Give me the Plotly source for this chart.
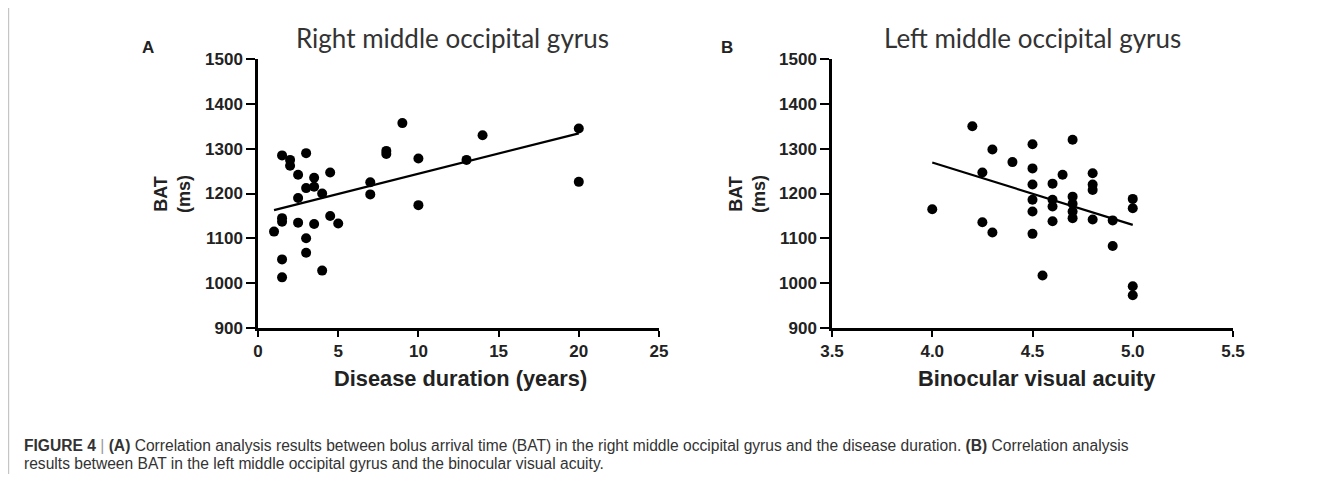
import plotly.graph_objects as go

# Panel A: disease duration (years) vs BAT (ms)
dur_years = [1, 1.5, 1.5, 1.5, 1.5, 1.5, 2, 2, 2.5, 2.5, 2.5, 3, 3, 3, 3, 3.5, 3.5, 3.5,
             4, 4, 4.5, 4.5, 5, 7, 7, 8, 8, 9, 10, 10, 13, 14, 20, 20]
bat_a = [1115, 1285, 1145, 1137, 1053, 1013, 1275, 1262, 1242, 1190, 1135, 1290, 1212, 1100,
         1068, 1235, 1215, 1132, 1200, 1028, 1247, 1150, 1133, 1225, 1198, 1295, 1288, 1357,
         1278, 1174, 1275, 1330, 1345, 1226]
fit_a_x = [1, 20]
fit_a_y = [1163, 1334]

# Panel B: binocular visual acuity vs BAT (ms)
acuity = [4.0, 4.2, 4.25, 4.25, 4.3, 4.3, 4.4, 4.5, 4.5, 4.5, 4.5, 4.5, 4.5, 4.55,
          4.6, 4.6, 4.6, 4.6, 4.65, 4.7, 4.7, 4.7, 4.7, 4.7, 4.8, 4.8, 4.8, 4.8,
          4.9, 4.9, 5.0, 5.0, 5.0, 5.0]
bat_b = [1165, 1350, 1247, 1136, 1298, 1113, 1270, 1310, 1256, 1220, 1186, 1160, 1110, 1017,
         1222, 1186, 1171, 1138, 1242, 1320, 1193, 1177, 1160, 1145, 1245, 1220, 1208, 1142,
         1140, 1083, 1188, 1167, 993, 973]
fit_b_x = [4.0, 5.0]
fit_b_y = [1269, 1130]

x_ticks_a = [0, 5, 10, 15, 20, 25]
x_ticks_b = [3.5, 4.0, 4.5, 5.0, 5.5]
x_ticktext_b = ["3.5", "4.0", "4.5", "5.0", "5.5"]
y_ticks = [900, 1000, 1100, 1200, 1300, 1400, 1500]

# page body keeps its default 8px margin, so the figure is sized to fit inside it
OFF = 8
W, H = 1344 - 2 * OFF, 482 - 2 * OFF
def px(x):
    return (x - OFF) / W
def py(y):
    return 1 - (y - OFF) / H

fig = go.Figure()
fig.add_trace(go.Scatter(x=dur_years, y=bat_a, mode="markers", xaxis="x", yaxis="y",
                         marker=dict(size=10, color="black"), cliponaxis=False, showlegend=False))
fig.add_trace(go.Scatter(x=fit_a_x, y=fit_a_y, mode="lines", xaxis="x", yaxis="y",
                         line=dict(color="black", width=2.2), showlegend=False))
fig.add_trace(go.Scatter(x=acuity, y=bat_b, mode="markers", xaxis="x2", yaxis="y2",
                         marker=dict(size=10, color="black"), cliponaxis=False, showlegend=False))
fig.add_trace(go.Scatter(x=fit_b_x, y=fit_b_y, mode="lines", xaxis="x2", yaxis="y2",
                         line=dict(color="black", width=2.2), showlegend=False))

tickfont = dict(family="Liberation Sans, Arial", size=17, color="#222", weight="bold")
axis_common = dict(showline=True, linecolor="black", linewidth=2.5, ticks="outside",
                   tickwidth=2, tickcolor="black", showgrid=False, zeroline=False,
                   tickfont=tickfont, fixedrange=True, automargin=False)

ydom = [py(328), py(59)]
fig.update_layout(
    template="none",
    width=W, height=H, autosize=False,
    margin=dict(l=0, r=0, t=0, b=0, pad=0),
    paper_bgcolor="white", plot_bgcolor="white",
    xaxis=dict(domain=[px(258), px(659)], range=[0, 25], tickvals=x_ticks_a, anchor="y",
               ticklen=6, **axis_common),
    yaxis=dict(domain=ydom, range=[900, 1500], tickvals=y_ticks, anchor="x",
               ticklen=9, **axis_common),
    xaxis2=dict(domain=[px(832), px(1233)], range=[3.5, 5.5], tickvals=x_ticks_b,
                ticktext=x_ticktext_b, anchor="y2", ticklen=6, **axis_common),
    yaxis2=dict(domain=ydom, range=[900, 1500], tickvals=y_ticks, anchor="x2",
                ticklen=9, **axis_common),
)

bold = dict(family="Liberation Sans, Arial", color="#222", weight="bold")
title_font = dict(family="Lato, Open Sans", size=26, color="#333")
ann = []
# panel letters
ann.append(dict(x=px(148), y=py(47), text="A", font=dict(size=17, **bold)))
ann.append(dict(x=px(727), y=py(47), text="B", font=dict(size=17, **bold)))
# panel titles
ann.append(dict(x=px(452), y=py(38), text="Right middle occipital gyrus", font=title_font))
ann.append(dict(x=px(1032), y=py(38), text="Left middle occipital gyrus", font=title_font))
# axis titles
ann.append(dict(x=px(460), y=py(378), text="Disease duration (years)", font=dict(size=21.8, **bold)))
ann.append(dict(x=px(1036), y=py(378), text="Binocular visual acuity", font=dict(size=21.8, **bold)))
ann.append(dict(x=px(172), y=py(194), text="BAT<br>(ms)", textangle=-90, font=dict(size=18, **bold)))
ann.append(dict(x=px(747), y=py(194), text="BAT<br>(ms)", textangle=-90, font=dict(size=18, **bold)))
# caption
cap_font = dict(family="Liberation Sans, Arial", size=15.6, color="#333")
ann.append(dict(x=px(22), y=py(445), xanchor="left", font=cap_font,
                text="<b>FIGURE 4</b> <span style='color:#999'>|</span> <b>(A)</b> Correlation analysis results between bolus arrival time (BAT) in the right middle occipital gyrus and the disease duration. <b>(B)</b> Correlation analysis"))
ann.append(dict(x=px(22), y=py(463), xanchor="left", font=cap_font,
                text="results between BAT in the left middle occipital gyrus and the binocular visual acuity."))
for a in ann:
    a.setdefault("xanchor", "center")
    a.setdefault("yanchor", "middle")
    a.update(xref="paper", yref="paper", showarrow=False)
fig.update_layout(annotations=ann)

fig.add_shape(type="line", xref="paper", yref="paper", x0=0.0005, x1=0.0005, y0=0, y1=1,
              line=dict(color="#bbbbbb", width=1))

fig.write_html("out.html", config={"displayModeBar": False})
